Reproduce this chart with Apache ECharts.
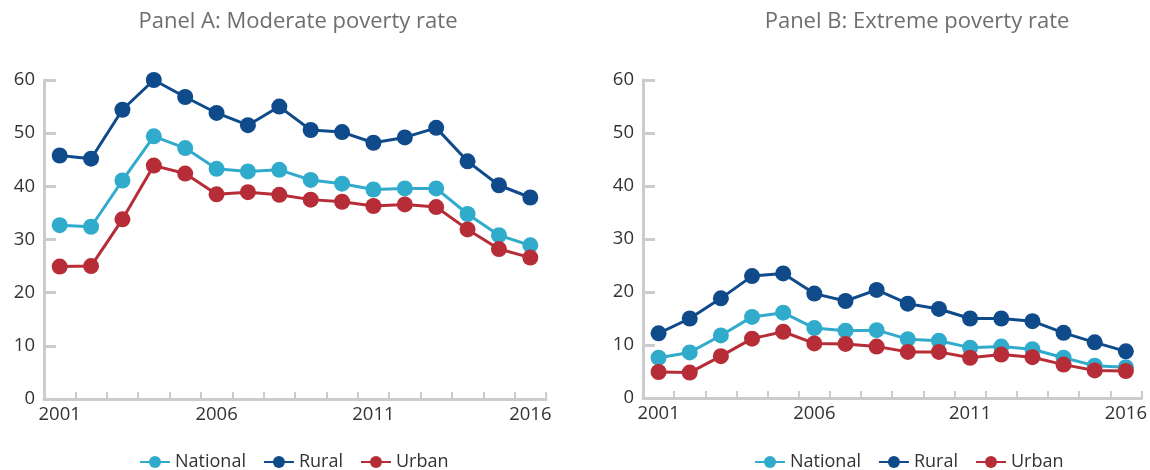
<!DOCTYPE html>
<html>
<head>
<meta charset="utf-8">
<script src="https://cdn.jsdelivr.net/npm/echarts@6/dist/echarts.min.js"></script>
<style>
  html, body { margin: 0; padding: 0; background: #fff; }
  #chart { width: 1150px; height: 470px; }
</style>
</head>
<body>
<div id="chart"></div>
<script>
// Years shared by both panels
const years = ['2001','2002','2003','2004','2005','2006','2007','2008',
               '2009','2010','2011','2012','2013','2014','2015','2016'];

// Panel A: moderate poverty rate (%)
const moderateNational = [32.7, 32.4, 41.1, 49.4, 47.2, 43.3, 42.8, 43.1, 41.2, 40.5, 39.4, 39.6, 39.6, 34.8, 30.8, 28.9];
const moderateRural    = [45.8, 45.2, 54.4, 60.0, 56.8, 53.8, 51.5, 55.0, 50.6, 50.2, 48.2, 49.2, 51.0, 44.7, 40.2, 37.9];
const moderateUrban    = [24.9, 25.0, 33.8, 43.9, 42.4, 38.5, 38.9, 38.4, 37.5, 37.1, 36.3, 36.6, 36.1, 31.9, 28.2, 26.6];

// Panel B: extreme poverty rate (%)
const extremeNational = [7.6, 8.6, 11.8, 15.3, 16.1, 13.2, 12.7, 12.8, 11.1, 10.8, 9.5, 9.7, 9.2, 7.6, 6.1, 5.8];
const extremeRural    = [12.2, 15.0, 18.8, 23.0, 23.5, 19.7, 18.3, 20.4, 17.8, 16.8, 15.0, 15.0, 14.5, 12.3, 10.5, 8.8];
const extremeUrban    = [4.9, 4.8, 7.9, 11.2, 12.5, 10.3, 10.2, 9.7, 8.7, 8.7, 7.6, 8.2, 7.7, 6.3, 5.2, 5.1];

// Y axis tick values
const yTicks = { min: 0, max: 60, interval: 10 };

const colors = { National: '#31abcb', Rural: '#0f4a8a', Urban: '#b72d37' };
const FONT = '"Open Sans", "DejaVu Sans", sans-serif';

function xAxisFor(gridIndex) {
  return {
    type: 'category',
    gridIndex: gridIndex,
    data: years,
    boundaryGap: true,
    axisLine: { lineStyle: { color: '#cccccc', width: 3 } },
    axisTick: { show: true, inside: true, length: 7, interval: 0, lineStyle: { color: '#cccccc', width: 2 } },
    axisLabel: { interval: 4, color: '#333', fontSize: 18.5, fontFamily: FONT, margin: 6 },
    splitLine: { show: false }
  };
}

function yAxisFor(gridIndex) {
  return {
    type: 'value',
    gridIndex: gridIndex,
    min: yTicks.min, max: yTicks.max, interval: yTicks.interval,
    axisLine: { show: true, lineStyle: { color: '#cccccc', width: 3 } },
    axisTick: { show: true, inside: true, length: 12, lineStyle: { color: '#cccccc', width: 3 } },
    axisLabel: { color: '#333', fontSize: 18.5, fontFamily: FONT, margin: 9 },
    splitLine: { show: false }
  };
}

function lineSeries(name, data, axisIndex) {
  return {
    type: 'line',
    name: name,
    data: data,
    xAxisIndex: axisIndex,
    yAxisIndex: axisIndex,
    symbol: 'circle',
    symbolSize: 16,
    color: colors[name],
    lineStyle: { width: 3, color: colors[name] },
    itemStyle: { color: colors[name] },
    emphasis: { disabled: true },
    animation: false
  };
}

function legendFor(left) {
  return {
    left: left,
    top: 448,
    data: ['National', 'Rural', 'Urban'],
    itemWidth: 30,
    itemHeight: 15,
    itemGap: 17,
    textStyle: { color: '#333', fontSize: 18, fontFamily: FONT }
  };
}

const chart = echarts.init(document.getElementById('chart'), null, { renderer: 'canvas' });
chart.setOption({
  backgroundColor: '#fff',
  title: [
    { text: 'Panel A: Moderate poverty rate', left: 293, top: 6, textAlign: 'center',
      textStyle: { color: '#6e6e6e', fontSize: 22, fontWeight: 'normal', fontFamily: FONT } },
    { text: 'Panel B: Extreme poverty rate', left: 912, top: 6, textAlign: 'center',
      textStyle: { color: '#6e6e6e', fontSize: 22, fontWeight: 'normal', fontFamily: FONT } }
  ],
  legend: [legendFor(134), legendFor(749)],
  grid: [
    { left: 44, right: 604, top: 80, bottom: 71, containLabel: false },
    { left: 643, right: 8, top: 80, bottom: 72, containLabel: false }
  ],
  xAxis: [xAxisFor(0), xAxisFor(1)],
  yAxis: [yAxisFor(0), yAxisFor(1)],
  series: [
    lineSeries('National', moderateNational, 0),
    lineSeries('Rural', moderateRural, 0),
    lineSeries('Urban', moderateUrban, 0),
    lineSeries('National', extremeNational, 1),
    lineSeries('Rural', extremeRural, 1),
    lineSeries('Urban', extremeUrban, 1)
  ]
});
</script>
</body>
</html>
